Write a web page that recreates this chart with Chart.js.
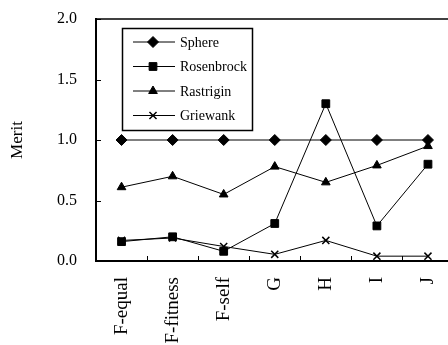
<!DOCTYPE html>
<html>
<head>
<meta charset="utf-8">
<script src="https://cdn.jsdelivr.net/npm/chart.js@4/dist/chart.umd.min.js"></script>
<style>
  body { margin: 0; background: #fff; overflow: hidden; }
</style>
</head>
<body>
<canvas id="c" width="460" height="345"></canvas>
<script>
const categories = ["F-equal", "F-fitness", "F-self", "G", "H", "I", "J"];
const sphere = [1.0, 1.0, 1.0, 1.0, 1.0, 1.0, 1.0];
const rosenbrock = [0.16, 0.2, 0.08, 0.31, 1.3, 0.29, 0.8];
const rastrigin = [0.61, 0.7, 0.55, 0.78, 0.65, 0.79, 0.95];
const griewank = [0.17, 0.19, 0.12, 0.055, 0.17, 0.04, 0.04];

const serif = "'Liberation Serif', 'Times New Roman', serif";
Chart.defaults.font.family = serif;
Chart.defaults.color = "#000";

function series(label, data, style, radius) {
  return {
    label: label,
    data: data,
    borderColor: "#000",
    backgroundColor: "#000",
    borderWidth: 1,
    pointStyle: style,
    pointRadius: radius,
    pointBorderWidth: style === "crossRot" ? 1.5 : 1,
    tension: 0,
  };
}

// legend box inside the plot, plus inward tick marks and the top border
const frame = {
  id: "frame",
  afterDraw(chart) {
    const ctx = chart.ctx;
    const area = chart.chartArea;
    const x = chart.scales.x, y = chart.scales.y;
    ctx.save();
    ctx.strokeStyle = "#000";
    ctx.lineWidth = 1.5;
    ctx.beginPath();
    ctx.moveTo(area.left, area.top);
    ctx.lineTo(area.right, area.top);
    ctx.stroke();
    ctx.lineWidth = 1;
    ctx.beginPath();
    // y ticks inward
    y.ticks.forEach((t) => {
      const py = Math.round(y.getPixelForValue(t.value)) + 0.5;
      ctx.moveTo(area.left, py);
      ctx.lineTo(area.left + 5, py);
    });
    // x ticks inward, between categories
    for (let i = 1; i < categories.length; i++) {
      const px = Math.round((x.getPixelForValue(i - 1) + x.getPixelForValue(i)) / 2) + 0.5;
      ctx.moveTo(px, area.bottom);
      ctx.lineTo(px, area.bottom - 5);
    }
    ctx.stroke();

    // legend
    const lx = 122, ly = 28, lw = 130, lh = 102;
    ctx.lineWidth = 1.5;
    ctx.strokeRect(lx + 0.5, ly + 0.5, lw, lh);
    ctx.font = "14px " + serif;
    ctx.textBaseline = "middle";
    ctx.fillStyle = "#000";
    chart.data.datasets.forEach((ds, i) => {
      const ry = ly + 14 + i * 24.5;
      ctx.lineWidth = 1;
      ctx.beginPath();
      ctx.moveTo(lx + 11, ry);
      ctx.lineTo(lx + 53, ry);
      ctx.stroke();
      ctx.lineWidth = ds.pointBorderWidth;
      Chart.helpers.drawPoint(ctx, {
        pointStyle: ds.pointStyle,
        radius: ds.pointRadius,
        borderWidth: ds.pointBorderWidth,
        rotation: 0,
      }, lx + 31, ry);
      ctx.fillText(ds.label, lx + 58, ry + 1);
    });
    ctx.restore();
  },
};

new Chart(document.getElementById("c"), {
  type: "line",
  data: {
    labels: categories,
    datasets: [
      series("Sphere", sphere, "rectRot", 5.5),
      series("Rosenbrock", rosenbrock, "rect", 5.5),
      series("Rastrigin", rastrigin, "triangle", 5),
      series("Griewank", griewank, "crossRot", 5),
    ],
  },
  options: {
    responsive: false,
    animation: false,
    clip: false,
    layout: { padding: { top: 19, right: 0, left: 0, bottom: 0 } },
    plugins: {
      legend: { display: false },
      tooltip: { enabled: false },
    },
    scales: {
      x: {
        offset: true,
        grid: { display: false, drawTicks: false },
        border: { display: true, color: "#000", width: 2 },
        ticks: {
          font: { size: 19 },
          minRotation: 90,
          maxRotation: 90,
          padding: 16,
          autoSkip: false,
        },
        afterFit(s) {
          s.height = 84;
          s.paddingLeft = 0;
          s.paddingRight = 0;
        },
      },
      y: {
        min: 0,
        max: 2,
        grid: { display: false, drawTicks: false },
        border: { display: true, color: "#000", width: 2 },
        ticks: {
          stepSize: 0.5,
          font: { size: 16 },
          padding: 19,
          callback: (v) => v.toFixed(1),
        },
        title: {
          display: true,
          text: "Merit",
          font: { size: 17 },
          padding: { top: 7, bottom: 0 },
        },
        afterFit(s) {
          s.width = 96;
          s.paddingTop = 0;
          s.paddingBottom = 0;
        },
      },
    },
  },
  plugins: [frame],
});
</script>
</body>
</html>
